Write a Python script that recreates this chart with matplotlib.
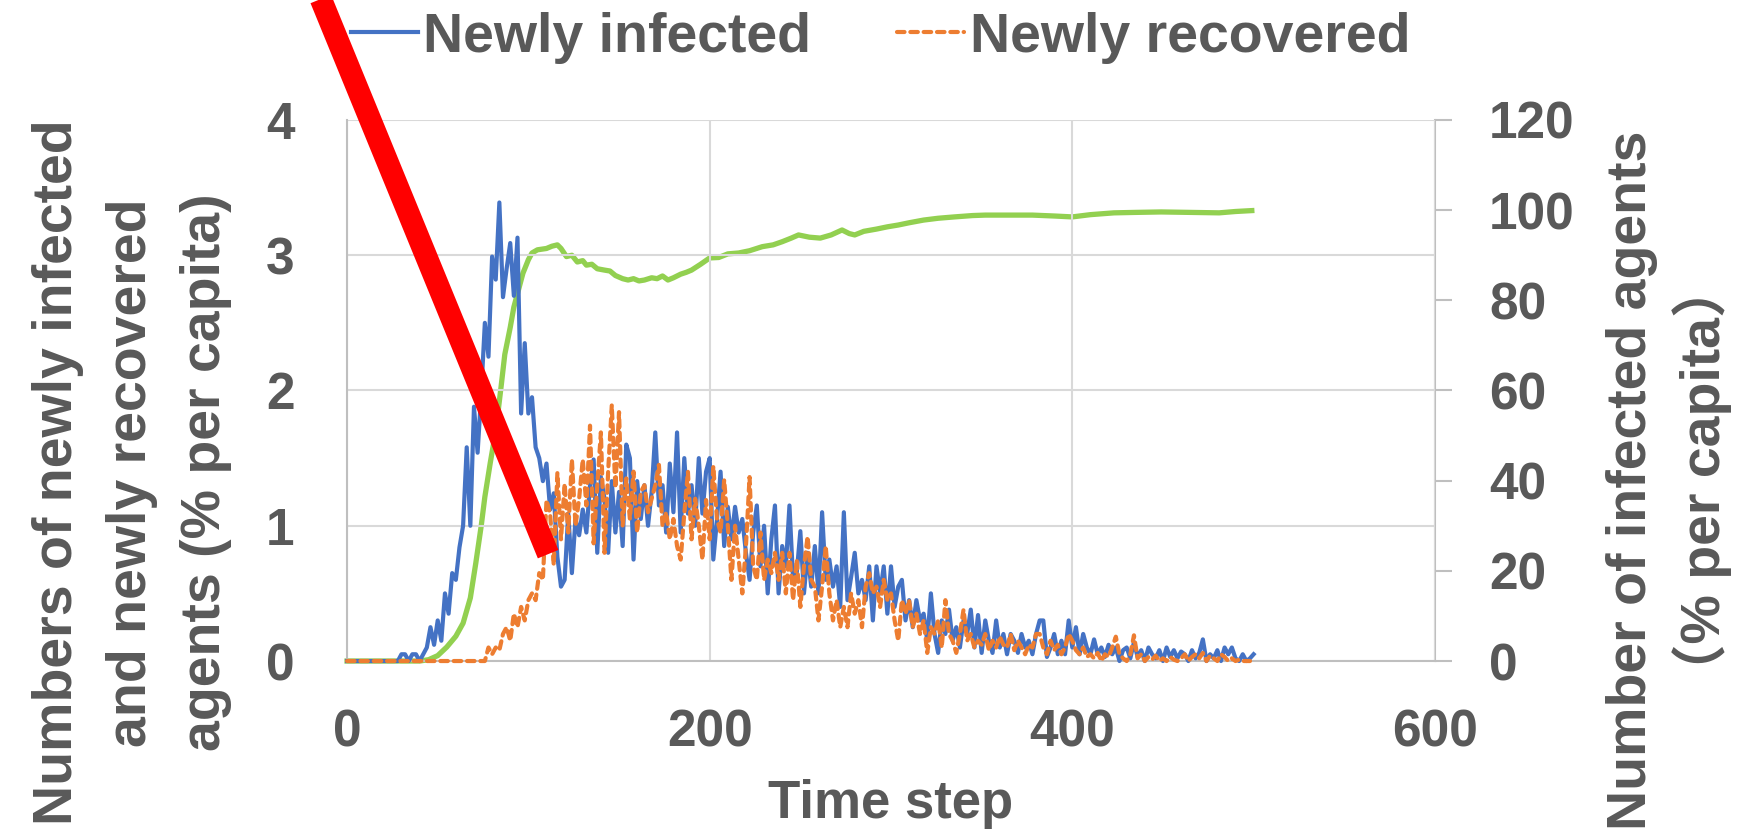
import numpy as np
import matplotlib
matplotlib.use("Agg")
import matplotlib.pyplot as plt

plt.rcParams['font.family'] = ['Liberation Sans', 'Noto Sans CJK JP', 'DejaVu Sans']
plt.rcParams['font.weight'] = 'bold'

# newly infected (% per capita), every 2nd time step from t=0
newly_infected = [
    0, 0, 0, 0, 0, 0, 0, 0, 0, 0, 0, 0, 0, 0, 0,
    0.05, 0.05, 0.0, 0.05, 0.05, 0.0, 0.05, 0.1, 0.25, 0.12, 0.3, 0.15, 0.5, 0.35, 0.65,
    0.6, 0.84, 1.0, 1.58, 1.0, 1.88, 1.54, 1.98, 2.5, 2.25, 2.99, 2.82, 3.39, 2.69, 2.9,
    3.09, 2.7, 3.13, 1.83, 2.35, 1.83, 1.95, 1.58, 1.5, 1.33, 1.46, 1.12, 1.24, 0.77, 0.55,
    0.6, 1.09, 0.65, 1.05, 0.93, 1.12, 0.95, 1.3, 1.49, 0.8, 1.36, 1.2, 0.8, 1.33, 0.95,
    1.25, 0.85, 1.6, 1.5, 0.75, 1.33, 1.05, 1.3, 1.0, 1.25, 1.69, 1.15, 1.3, 0.95, 1.46,
    1.1, 1.69, 0.95, 1.5, 1.09, 1.3, 1.0, 1.5, 1.09, 1.4, 1.5, 0.75, 1.04, 1.4, 0.85,
    1.14, 0.9, 1.14, 0.95, 1.05, 0.8, 0.6, 0.95, 1.15, 0.7, 1.0, 0.5, 0.9, 1.15, 0.5,
    0.85, 0.7, 1.15, 0.6, 0.65, 0.96, 0.5, 0.8, 0.55, 0.85, 0.5, 1.1, 0.6, 0.75, 0.55,
    0.7, 0.4, 1.1, 0.45, 0.62, 0.8, 0.5, 0.6, 0.45, 0.7, 0.3, 0.7, 0.5, 0.7, 0.35,
    0.7, 0.4, 0.55, 0.6, 0.3, 0.45, 0.25, 0.45, 0.3, 0.35, 0.15, 0.5, 0.2, 0.06, 0.3,
    0.2, 0.38, 0.15, 0.25, 0.1, 0.3, 0.2, 0.38, 0.1, 0.34, 0.06, 0.3, 0.15, 0.06, 0.3,
    0.1, 0.2, 0.05, 0.2, 0.15, 0.06, 0.2, 0.1, 0.15, 0.05, 0.2, 0.3, 0.3, 0.03, 0.1,
    0.2, 0.05, 0.15, 0.05, 0.3, 0.1, 0.25, 0.05, 0.2, 0.1, 0.05, 0.16, 0.05, 0.1, 0.03,
    0.12, 0.05, 0.1, 0.0, 0.08, 0.1, 0.02, 0.14, 0.03, 0.08, 0.0, 0.1, 0.05, 0.02, 0.08,
    0.0, 0.1, 0.03, 0.08, 0.02, 0.07, 0.05, 0.0, 0.08, 0.02, 0.06, 0.16, 0.0, 0.05, 0.02,
    0.08, 0.0, 0.1, 0.05, 0.1, 0.02, 0.0, 0.05, 0.0, 0.02, 0.05,
]

# newly recovered (% per capita), every 2nd time step from t=0
newly_recovered = [
    0, 0, 0, 0, 0, 0, 0, 0, 0, 0, 0, 0, 0, 0, 0, 0, 0, 0, 0, 0,
    0, 0, 0, 0, 0, 0, 0, 0, 0, 0, 0, 0, 0, 0, 0, 0, 0, 0, 0,
    0.1, 0.05, 0.1, 0.08, 0.2, 0.25, 0.15, 0.35, 0.25, 0.4, 0.3, 0.45, 0.5, 0.45, 0.65,
    0.6, 1.19, 1.09, 0.71, 1.39, 0.9, 1.31, 0.95, 1.49, 1.0, 1.2, 1.49, 1.15, 1.74, 0.87,
    1.3, 1.69, 0.8, 1.4, 1.89, 1.28, 1.84, 1.0, 1.35, 1.05, 1.4, 0.95, 1.25, 1.3, 1.1,
    1.2, 1.3, 1.45, 1.0, 1.1, 0.9, 1.05, 0.85, 0.75, 1.09, 1.4, 0.9, 1.2, 1.0, 0.75,
    1.19, 0.9, 1.44, 1.05, 0.95, 1.34, 1.0, 0.6, 1.0, 0.75, 0.5, 0.85, 1.36, 0.7, 0.6,
    0.95, 0.6, 0.75, 0.65, 0.8, 0.6, 0.8, 0.5, 0.8, 0.45, 0.75, 0.4, 0.7, 0.92, 0.6,
    0.55, 0.3, 0.55, 0.85, 0.5, 0.3, 0.45, 0.25, 0.4, 0.25, 0.5, 0.35, 0.45, 0.25, 0.55,
    0.65, 0.5, 0.55, 0.4, 0.6, 0.45, 0.5, 0.3, 0.15, 0.45, 0.35, 0.45, 0.25, 0.35, 0.2,
    0.3, 0.06, 0.25, 0.2, 0.3, 0.1, 0.45, 0.2, 0.15, 0.06, 0.2, 0.38, 0.15, 0.2, 0.1,
    0.15, 0.12, 0.2, 0.08, 0.15, 0.1, 0.18, 0.12, 0.1, 0.2, 0.08, 0.15, 0.1, 0.05, 0.12,
    0.1, 0.2, 0.2, 0.1, 0.05, 0.15, 0.08, 0.12, 0.05, 0.1, 0.2, 0.15, 0.08, 0.05, 0.1,
    0.03, 0.05, 0.02, 0.06, 0.0, 0.05, 0.03, 0.1, 0.18, 0.05, 0.02, 0.0, 0.05, 0.19, 0.02,
    0.05, 0.0, 0.03, 0.01, 0.04, 0.0, 0.02, 0.0, 0.03, 0.01, 0.0, 0.02, 0.05, 0.0, 0.03,
    0.05, 0.02, 0.06, 0.0, 0.04, 0.02, 0.0, 0.05, 0.03, 0.0, 0.02, 0.0, 0.01, 0.0, 0.0,
    0.0,
]

# infected agents (% per capita), right axis
infected_t = [0, 40, 45, 50, 55, 60, 64, 68, 71, 74, 76, 79, 82, 85, 87, 90, 92, 95, 97,
              100, 102, 105, 110, 113, 116, 118, 121, 124, 127, 130, 132, 135, 138, 142,
              145, 148, 152, 155, 158, 161, 164, 168, 171, 174, 177, 180, 184, 187, 190,
              195, 200, 205, 210, 216, 222, 229, 235, 240, 245, 249, 255, 261, 267, 273,
              277, 280, 285, 292, 298, 304, 310, 318, 326, 335, 345, 352, 365, 378, 390,
              400, 410, 423, 435, 449, 465, 481, 490, 499]
infected = [0, 0, 0.3, 1.2, 3.1, 5.5, 8.4, 14, 21.7, 30, 36.4, 44, 51, 61, 68, 74, 78.5, 83, 86,
            89, 90.5, 91.2, 91.5, 92, 92.3, 91.5, 89.7, 90, 88.5, 88.8, 87.8, 88, 87, 86.7,
            86.5, 85.5, 84.8, 84.5, 84.8, 84.3, 84.5, 85, 84.8, 85.4, 84.5, 85, 85.8, 86.2, 86.7,
            88, 89.4, 89.5, 90.3, 90.5, 91, 91.9, 92.3, 93, 93.8, 94.5, 94, 93.8, 94.5, 95.6,
            94.8, 94.5, 95.3, 95.8, 96.3, 96.7, 97.2, 97.8, 98.2, 98.5, 98.8, 98.9, 98.9, 98.9, 98.7,
            98.5, 99, 99.4, 99.5, 99.6, 99.5, 99.4, 99.7, 99.9]

t_inf = np.arange(len(newly_infected)) * 2
t_rec = np.arange(len(newly_recovered)) * 2

text_col = '#595959'
grid_col = '#D9D9D9'
spine_col = '#BFBFBF'

fig = plt.figure(figsize=(17.37, 8.36), dpi=100)
ax = fig.add_axes([0.1998, 0.2093, 0.6263, 0.6472])
ax2 = ax.twinx()

l1, = ax.plot(t_inf, newly_infected, color='#4472C4', lw=3.0, label='Newly infected',
              clip_on=False, zorder=3)
l2, = ax.plot(t_rec, newly_recovered, color='#ED7D31', lw=3.0, dashes=(1.8, 1.4),
              dash_capstyle='round', label='Newly recovered', clip_on=False, zorder=4)
ax2.plot(infected_t, infected, color='#92D050', lw=3.8, clip_on=False)

ax.set_xlim(0, 600)
ax.set_ylim(0, 4)
ax2.set_ylim(0, 120)
ax.set_xticks([0, 200, 400, 600])
ax.set_yticks([0, 1, 2, 3, 4])
ax2.set_yticks(np.arange(0, 121, 20))

ax.grid(True, color=grid_col, lw=1.5)
ax.set_axisbelow(True)
for a in (ax, ax2):
    for s in a.spines.values():
        s.set_visible(False)
ax.spines['left'].set_visible(True)
ax.spines['left'].set_color(spine_col)
ax.spines['left'].set_linewidth(1.5)
ax.spines['bottom'].set_visible(True)
ax.spines['bottom'].set_color(spine_col)
ax.spines['bottom'].set_linewidth(1.5)
ax2.spines['right'].set_visible(True)
ax2.spines['right'].set_color(spine_col)
ax2.spines['right'].set_linewidth(1.5)

ax.tick_params(axis='x', length=0, pad=34, labelsize=37, colors=text_col)
ax.tick_params(axis='y', length=0, pad=38, labelsize=37, colors=text_col)
ax2.tick_params(axis='y', length=12, width=1.5, color=spine_col, pad=27,
                labelsize=37, labelcolor=text_col)

ax.set_xlabel('Time step', fontsize=38, fontweight='bold', color=text_col, labelpad=16)

fig.text(0.076, 0.435, 'Numbers of newly infected\nand newly recovered\nagents (% per capita)',
         rotation=90, ha='center', va='center', multialignment='center',
         fontsize=40, fontweight='bold', color=text_col, linespacing=1.55)
fig.text(0.961, 0.425, 'Number of infected agents\n（% per capita）',
         rotation=90, ha='center', va='center', multialignment='center',
         fontsize=40, fontweight='bold', color=text_col, linespacing=1.3)

fig.legend(handles=[l1, l2], loc='center', bbox_to_anchor=(0.507, 0.955), ncol=2,
           frameon=False, fontsize=40, labelcolor=text_col, handlelength=1.2,
           handletextpad=0.1, columnspacing=1.55, prop={'weight': 'bold', 'size': 40})

# red annotation stroke over the chart
ax.plot([-17.7, 110.9], [5.0, 0.79], color='#FF0000', lw=16, solid_capstyle='butt',
        clip_on=False, zorder=10)
ax.set_zorder(ax2.get_zorder() + 1)
ax.patch.set_visible(False)

fig.savefig('out.png', dpi=100)
